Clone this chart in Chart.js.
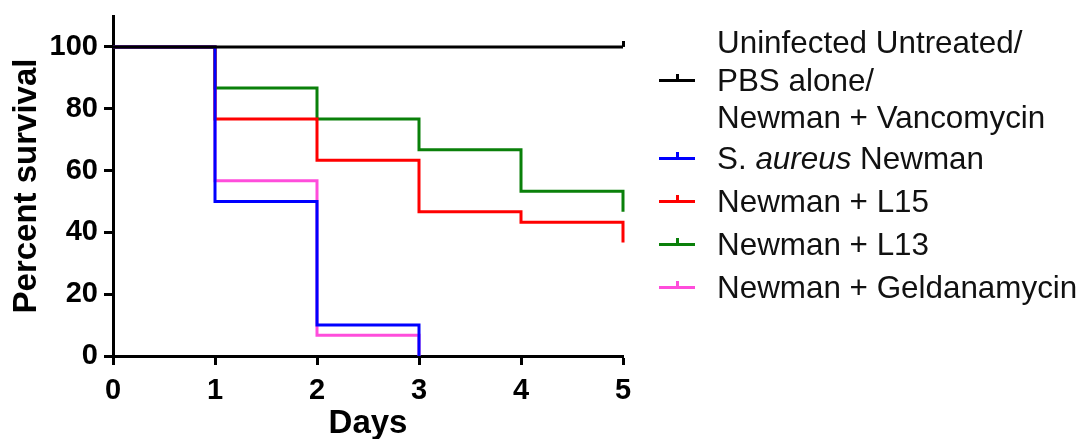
<!DOCTYPE html>
<html>
<head>
<meta charset="utf-8">
<script src="https://cdn.jsdelivr.net/npm/chart.js@4.4.1/dist/chart.umd.min.js"></script>
<style>
  body { margin: 0; background: #fff; }
  #wrap { position: relative; width: 1081px; height: 439px; }
  #legend { position: absolute; left: 659px; top: 24px; font: 31.4px 'Liberation Sans', Arial, sans-serif; color: #111; }
  .row { display: flex; align-items: center; line-height: 43px; white-space: nowrap; }
  .row.multi { line-height: 37.5px; }
  .sym { position: relative; width: 36px; height: 3px; margin-right: 22px; flex: none; }
  .sym .tick { position: absolute; left: 16.5px; bottom: 3px; width: 3px; height: 5px; background: inherit; }
</style>
</head>
<body>
<div id="wrap">
  <canvas id="survivalChart" width="1081" height="439"></canvas>
  <div id="legend"></div>
</div>
<script>
// Kaplan-Meier survival, percent, per day
const days = [0, 1, 2, 3, 4, 5];
const uninfected = [100, 100, 100, 100, 100, 100];
const newman = [100, 50, 10, 0];
const newmanL15 = [100, 76.7, 63.3, 46.7, 43.3, 36.7];
const newmanL13 = [100, 86.7, 76.7, 66.7, 53.3, 46.7];
const newmanGeld = [100, 56.7, 6.7, 0];
const yTicks = [0, 20, 40, 60, 80, 100];

const groupLabels = [
    'Uninfected Untreated/\nPBS alone/\nNewman + Vancomycin',
    'S. aureus Newman',
    'Newman + L15',
    'Newman + L13',
    'Newman + Geldanamycin'
];
const groupValues = [uninfected, newman, newmanL15, newmanL13, newmanGeld];
const groupColors = ['#000000', '#0000ff', '#ff0000', '#0a800a', '#ff4ddb'];

const fontFamily = "'Liberation Sans', Arial, sans-serif";

// small upward tick used as the censor mark
let censorMark = function (color) {
    let c = document.createElement('canvas');
    c.width = 3;
    c.height = 12;
    let g = c.getContext('2d');
    g.fillStyle = color;
    g.fillRect(0, 0, 3, 6);
    return c;
};

let datasets = groupValues.map(function (values, idx) {
    return {
        label: groupLabels[idx],
        data: values.map(function (v, i) { return {x: days[i], y: v}; }),
        borderColor: groupColors[idx],
        backgroundColor: groupColors[idx],
        borderWidth: 3,
        stepped: 'before',
        fill: false,
        clip: false,
        pointStyle: censorMark(groupColors[idx]),
        pointRadius: function (ctx) {
            return (idx === 0 && ctx.dataIndex === values.length - 1) ? 5 : 0;
        },
        pointHoverRadius: 0
    };
});

let tickFont = {family: fontFamily, size: 29, weight: 'bold'};
let titleFont = {family: fontFamily, size: 33, weight: 'bold'};
let axisGrid = {display: true, drawOnChartArea: false, drawTicks: true, tickLength: 9, tickWidth: 3, tickColor: '#000'};
let axisBorder = {display: true, color: '#000', width: 3};

new Chart(document.getElementById('survivalChart').getContext('2d'), {
    type: 'line',
    data: {datasets: datasets},
    options: {
        responsive: false,
        animation: false,
        events: [],
        layout: {padding: {left: 0, top: 16, right: 458, bottom: 0}},
        plugins: {
            legend: {display: false},
            tooltip: {enabled: false}
        },
        scales: {
            x: {
                type: 'linear',
                min: 0,
                max: 5,
                afterBuildTicks: function (s) { s.ticks = days.map(function (v) { return {value: v}; }); },
                afterFit: function (s) { s.height = 83; },
                border: axisBorder,
                grid: axisGrid,
                ticks: {color: '#000', font: tickFont, padding: 9, maxRotation: 0},
                title: {display: true, text: 'Days', color: '#000', font: titleFont, padding: {top: 0, bottom: -5}}
            },
            y: {
                type: 'linear',
                min: 0,
                max: 110,
                afterBuildTicks: function (s) { s.ticks = yTicks.map(function (v) { return {value: v}; }); },
                afterFit: function (s) {
                    s.width = 113;
                    s.paddingTop = 0;
                    s.paddingBottom = 0;
                },
                border: axisBorder,
                grid: axisGrid,
                ticks: {color: '#000', font: tickFont, padding: 6},
                title: {display: true, text: 'Percent survival', color: '#000', font: titleFont, padding: {top: 7, bottom: 0}}
            }
        }
    }
});

// legend drawn as html so the species name can be italic
let legend = document.getElementById('legend');
groupLabels.forEach(function (label, idx) {
    let row = document.createElement('div');
    row.className = label.indexOf('\n') >= 0 ? 'row multi' : 'row';
    let sym = document.createElement('div');
    sym.className = 'sym';
    sym.style.background = groupColors[idx];
    let tick = document.createElement('div');
    tick.className = 'tick';
    sym.appendChild(tick);
    let text = document.createElement('div');
    text.innerHTML = label.split('\n').join('<br>').replace('aureus', '<em>aureus</em>');
    row.appendChild(sym);
    row.appendChild(text);
    legend.appendChild(row);
});
</script>
</body>
</html>
